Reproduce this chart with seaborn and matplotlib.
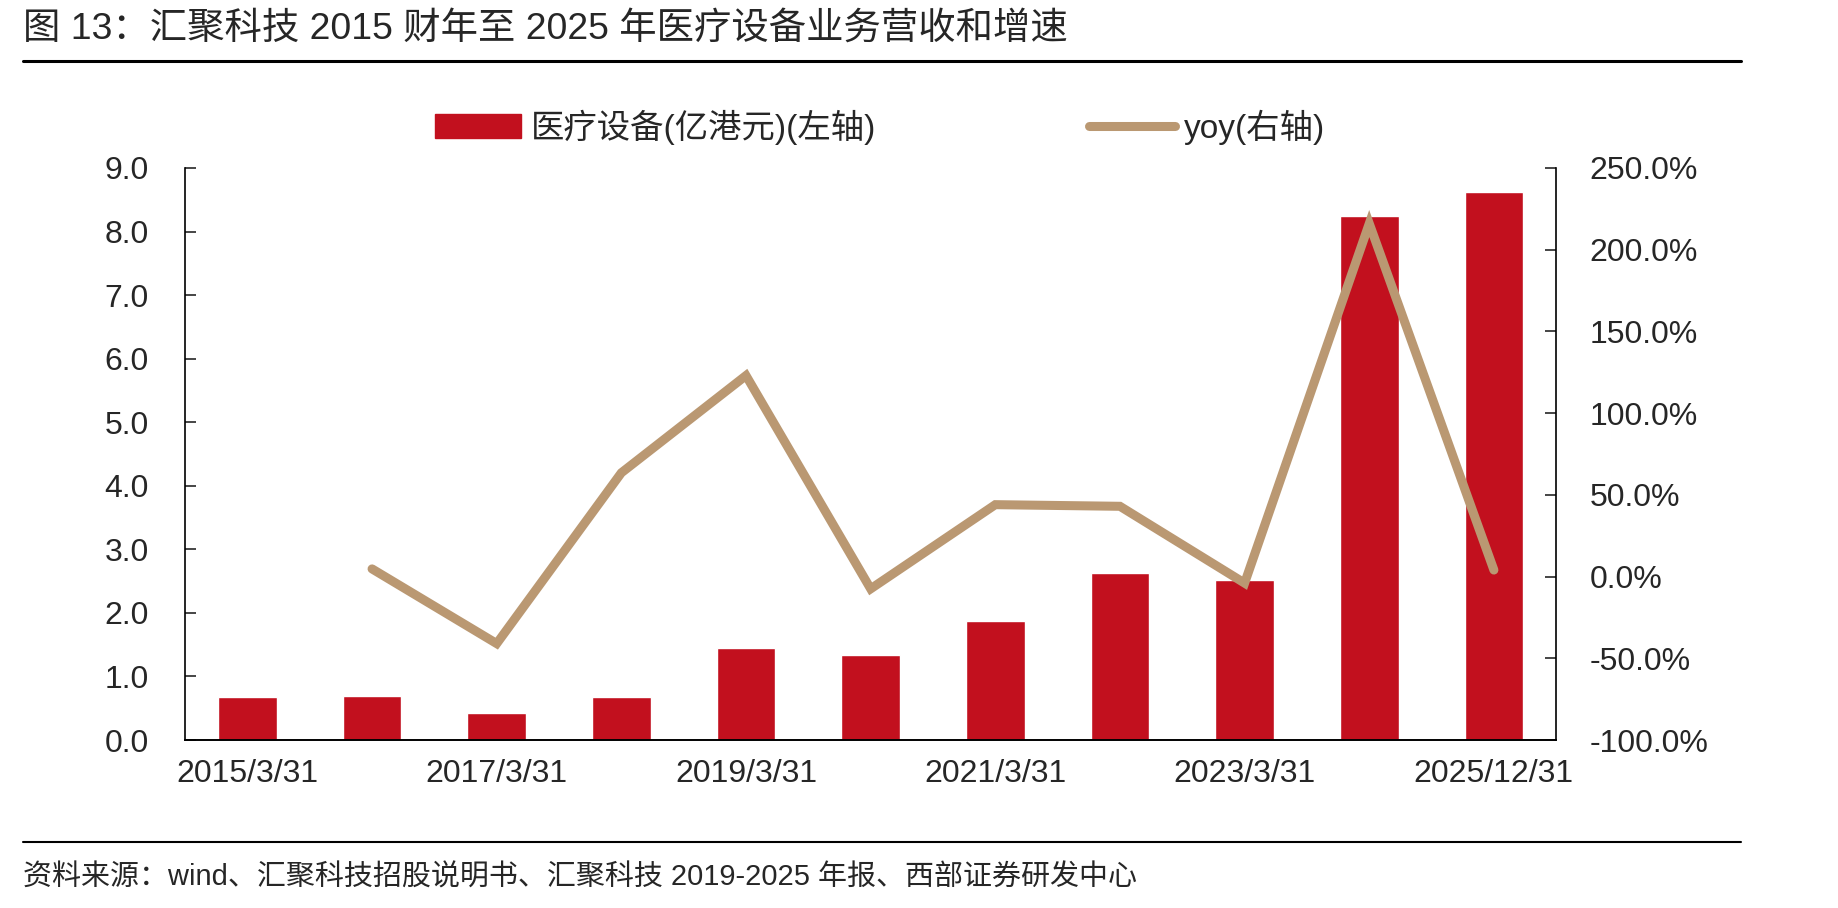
"""
Bar + line combo: 汇聚科技医疗设备业务营收（左轴）与同比增速（右轴）.
"""

import numpy as np
import pandas as pd
import seaborn as sns
import matplotlib.pyplot as plt
from matplotlib.patches import Patch
from matplotlib.lines import Line2D

# ---- data ----
periods = ["2015/3/31", "2016/3/31", "2017/3/31", "2018/3/31", "2019/3/31",
           "2020/3/31", "2021/3/31", "2022/3/31", "2023/3/31", "2024/3/31",
           "2025/12/31"]
revenue = [0.68, 0.70, 0.43, 0.68, 1.45, 1.33, 1.88, 2.63, 2.52, 8.24, 8.62]
yoy = [np.nan, 4.7, -41.0, 63.5, 123.0, -7.5, 44.0, 43.0, -4.0, 216.0, 4.0]

bar_label = "医疗设备(亿港元)(左轴)"
line_label = "yoy(右轴)"
title = "图 13：汇聚科技 2015 财年至 2025 年医疗设备业务营收和增速"
source = "资料来源：wind、汇聚科技招股说明书、汇聚科技 2019-2025 年报、西部证券研发中心"

df = pd.DataFrame({"period": periods, "revenue": revenue, "yoy": yoy})
df["pos"] = np.arange(len(df))

red = "#C2101E"
tan = "#BA9872"
fams = ["Liberation Sans", "Noto Sans CJK SC", "DejaVu Sans"]

sns.set_style("white")
plt.rcParams["font.family"] = fams

fig = plt.figure(figsize=(18.38, 9.08), dpi=100)
ax = fig.add_axes([0.1007, 0.185, 0.746, 0.630])

sns.barplot(data=df, x="pos", y="revenue", color=red, width=0.47,
            saturation=1, ax=ax)

ax2 = ax.twinx()
sns.lineplot(data=df.dropna(), x="pos", y="yoy", color=tan, linewidth=6.5,
             ax=ax2, solid_capstyle="round", solid_joinstyle="miter")

n = len(df)
ax.set_xlim(-0.5, n - 0.5)
ax.set_ylim(0, 9)
ax2.set_ylim(-100, 250)
ax.set_yticks(np.arange(0, 9.01, 1.0))
ax.set_yticklabels([f"{v:.1f}" for v in np.arange(0, 9.01, 1.0)])
ax2.set_yticks(np.arange(-100, 251, 50))
ax2.set_yticklabels([f"{v:.1f}%" for v in np.arange(-100, 251, 50)])

ax.set_xticks(df["pos"])
ax.set_xticklabels([p if i % 2 == 0 else "" for i, p in enumerate(periods)])
ax.set_xticks(np.arange(-0.5, n, 1.0), minor=True)
ax.tick_params(axis="x", which="major", length=0, pad=14, labelsize=23)
ax.tick_params(axis="x", which="minor", direction="in", length=8, width=1.2)
ax.tick_params(axis="y", direction="in", length=8, width=1.2, pad=26,
               labelsize=23, left=True)
ax2.tick_params(axis="y", direction="in", length=8, width=1.2, pad=24,
                labelsize=23, right=True)

for a in (ax, ax2):
    a.set_xlabel("")
    a.set_ylabel("")
    a.spines["top"].set_visible(False)
    for s in ("left", "right", "bottom"):
        a.spines[s].set_linewidth(1.2)
        a.spines[s].set_color("black")
ax2.spines["left"].set_visible(False)
ax.spines["right"].set_visible(False)
if ax2.get_legend() is not None:
    ax2.get_legend().remove()

handles = [Patch(facecolor=red, edgecolor=red, label=bar_label),
           Line2D([0], [0], color=tan, linewidth=6.5, solid_capstyle="round",
                  label=line_label)]
fig.legend(handles=handles, loc="center", bbox_to_anchor=(0.479, 0.860),
           ncol=2, frameon=False, handlelength=2.57, handletextpad=0.28,
           columnspacing=6.4, prop={"family": fams, "size": 24})

# title, rules and source note
fig.text(0.0125, 0.968, title, fontsize=26.9, va="center", ha="left",
         family=fams)
fig.add_artist(Line2D([0.0125, 0.947], [0.933, 0.933], color="black", linewidth=2.2))
fig.add_artist(Line2D([0.0125, 0.947], [0.073, 0.073], color="black", linewidth=1.5))
fig.text(0.0125, 0.034, source, fontsize=20.9, va="center", ha="left",
         family=fams)

fig.savefig("out.png", dpi=100)
